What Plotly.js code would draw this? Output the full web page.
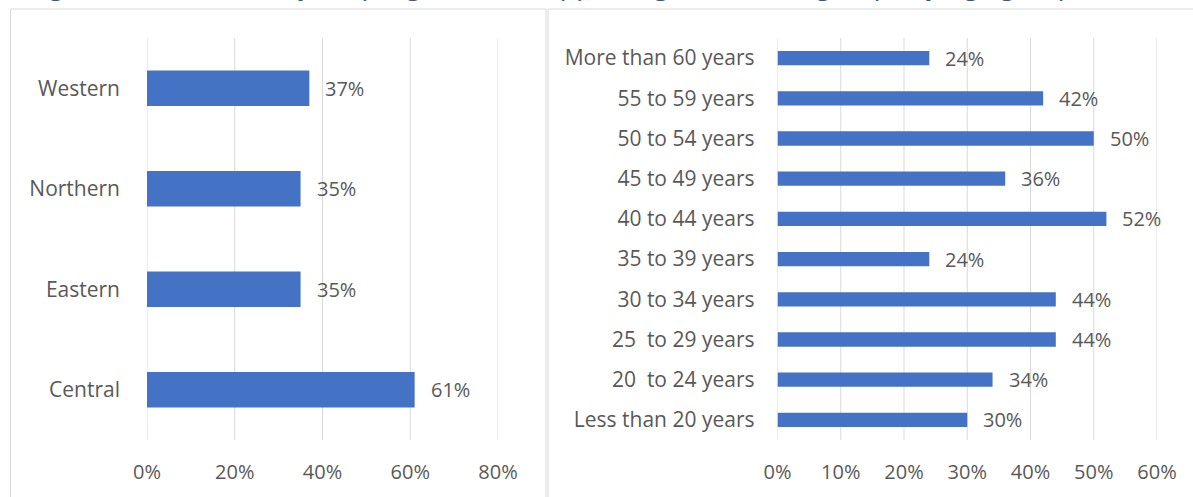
<!DOCTYPE html>
<html>
<head>
<meta charset="utf-8">
<script src="https://cdn.plot.ly/plotly-3.0.1.min.js"></script>
<style>
  html, body { margin: 0; padding: 0; background: #ffffff; }
  #chart { width: 1193px; height: 497px; }
</style>
</head>
<body>
<div id="chart"></div>
<script>
// Awareness by region (top to bottom)
const regionLabels = ['Western', 'Northern', 'Eastern', 'Central'];
const regionValues = [37, 35, 35, 61];

// Awareness by age group (top to bottom)
const ageLabels = [
  'More than 60 years', '55 to 59 years', '50 to 54 years', '45 to 49 years',
  '40 to 44 years', '35 to 39 years', '30 to 34 years', '25\u00a0 to 29 years',
  '20\u00a0 to 24 years', 'Less than 20 years'
];
const ageValues = [24, 42, 50, 36, 52, 24, 44, 44, 34, 30];

// Axis tick values
const regionTicks = [0, 20, 40, 60, 80];
const ageTicks = [0, 10, 20, 30, 40, 50, 60];

const captionText = 'Figure 3: Awareness of ISC programmes supporting vulnerable groups by age group';

const W = 1193, H = 497;
const px = v => v / W;
const py = v => 1 - v / H;

const BAR = '#4472C4';
const GRID = '#D9D9D9';
const TEXT = '#595959';
const FONT = 'Open Sans, sans-serif';

const plotTop = 38, plotBottom = 440;

const traces = [
  {
    type: 'bar', orientation: 'h',
    x: regionValues, y: regionLabels,
    xaxis: 'x', yaxis: 'y',
    marker: { color: BAR, line: { width: 0 } },
    hoverinfo: 'skip', showlegend: false
  },
  {
    type: 'bar', orientation: 'h',
    x: ageValues, y: ageLabels,
    xaxis: 'x2', yaxis: 'y2',
    marker: { color: BAR, line: { width: 0 } },
    hoverinfo: 'skip', showlegend: false
  }
];

// Value labels placed just past each bar end
const valueLabel = (v, c, xr, yr) => ({
  x: v, y: c, xref: xr, yref: yr,
  text: v + '%', showarrow: false,
  xanchor: 'left', yanchor: 'middle', xshift: 14,
  font: { family: FONT, size: 20, color: TEXT }
});

const annotations = [
  ...regionValues.map((v, i) => valueLabel(v, regionLabels[i], 'x', 'y')),
  ...ageValues.map((v, i) => valueLabel(v, ageLabels[i], 'x2', 'y2')),
  {
    x: px(28), y: py(-17), xref: 'paper', yref: 'paper',
    xanchor: 'left', yanchor: 'middle', showarrow: false,
    text: captionText,
    font: { family: FONT, size: 28.5, color: '#44546A', style: 'italic' }
  }
];

// Vertical gridlines at every tick, including both ends of each axis
const gridLine = (v, xr) => ({
  type: 'line', xref: xr, yref: 'paper',
  x0: v, x1: v, y0: py(plotBottom), y1: py(plotTop),
  line: { color: GRID, width: 1 }, layer: 'below'
});

const xCommon = {
  showgrid: false, zeroline: false, showline: false, ticks: '',
  tickmode: 'array',
  tickfont: { family: FONT, size: 20, color: TEXT },
  ticklabelstandoff: 18, fixedrange: true
};
const yCommon = {
  type: 'category', autorange: 'reversed',
  showgrid: false, zeroline: false, showline: false, ticks: '',
  tickfont: { family: FONT, size: 21, color: TEXT },
  domain: [py(plotBottom), py(plotTop)], fixedrange: true
};

const pct = t => t + '%';

const layout = {
  width: W, height: H,
  margin: { l: 0, r: 0, t: 0, b: 0, pad: 0 },
  paper_bgcolor: '#ffffff', plot_bgcolor: 'rgba(0,0,0,0)',
  bargap: 0.645,
  font: { family: FONT, color: TEXT },
  xaxis: Object.assign({}, xCommon, {
    domain: [px(147), px(498)], range: [0, 80],
    tickvals: regionTicks, ticktext: regionTicks.map(pct), anchor: 'y'
  }),
  yaxis: Object.assign({}, yCommon, { anchor: 'x', ticklabelstandoff: 26 }),
  xaxis2: Object.assign({}, xCommon, {
    domain: [px(777.5), px(1157)], range: [0, 60],
    tickvals: ageTicks, ticktext: ageTicks.map(pct), anchor: 'y2'
  }),
  yaxis2: Object.assign({}, yCommon, { anchor: 'x2', ticklabelstandoff: 22 }),
  annotations: annotations,
  shapes: [
    {
      type: 'rect', xref: 'paper', yref: 'paper',
      x0: px(10.5), x1: px(546), y0: -0.1, y1: py(9),
      line: { color: GRID, width: 1 }, fillcolor: 'rgba(0,0,0,0)', layer: 'below'
    },
    {
      type: 'rect', xref: 'paper', yref: 'paper',
      x0: px(548), x1: 1.1, y0: -0.1, y1: py(9),
      line: { color: GRID, width: 1 }, fillcolor: 'rgba(0,0,0,0)', layer: 'below'
    },
    ...regionTicks.map(v => gridLine(v, 'x')),
    ...ageTicks.map(v => gridLine(v, 'x2'))
  ]
};

Plotly.newPlot('chart', traces, layout, { staticPlot: true, displayModeBar: false });
</script>
</body>
</html>
